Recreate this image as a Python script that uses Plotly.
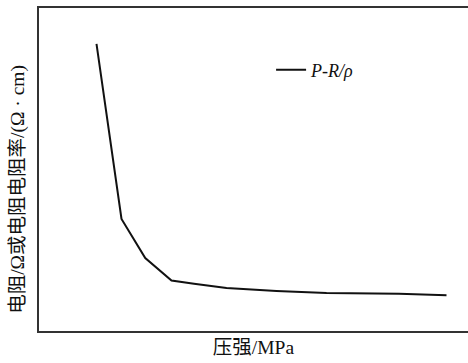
import plotly.graph_objects as go

pressure = [2.3, 3.3, 4.25, 5.3, 6.2, 7.5, 9.5, 11.5, 14.4, 16.3]
resistance = [88.9, 34.7, 22.6, 15.6, 14.6, 13.3, 12.4, 11.8, 11.5, 11.1]
series_name = "<i>P-R/ρ</i>"
x_title = "压强/MPa"
y_title = "电阻/Ω或电阻电阻率/(Ω · cm)"

fig = go.Figure()
fig.add_trace(go.Scatter(x=pressure, y=resistance, mode="lines", name=series_name,
                         line=dict(color="#111111", width=2)))

font_family = "Liberation Serif, Noto Sans CJK SC, serif"
fig.update_layout(
    width=468, height=363,
    margin=dict(l=39, r=0, t=8, b=32, autoexpand=False),
    paper_bgcolor="white", plot_bgcolor="white",
    font=dict(family=font_family, size=18, color="#111111"),
    showlegend=True,
    legend=dict(x=0.541, y=0.808, xanchor="left", yanchor="middle",
                bgcolor="rgba(0,0,0,0)", font=dict(size=18)),
    xaxis=dict(range=[0, 17.16], showticklabels=False, ticks="", showgrid=False,
               zeroline=False, showline=True, linecolor="#333333", linewidth=1.5,
               mirror=True, automargin=False,
               title=dict(text=x_title, standoff=9, font=dict(size=19.5))),
    yaxis=dict(range=[0, 100], showticklabels=False, ticks="", showgrid=False,
               zeroline=False, showline=True, linecolor="#333333", linewidth=1.5,
               automargin=False),
    annotations=[dict(text=y_title, xref="paper", yref="paper", x=-0.049, y=0.44,
                      xanchor="center", yanchor="middle", textangle=-90,
                      showarrow=False, font=dict(size=19.5))],
)
fig.write_html("out.html", config={"displayModeBar": False},
               post_script="document.body.style.margin='0';document.body.style.overflow='hidden';")
